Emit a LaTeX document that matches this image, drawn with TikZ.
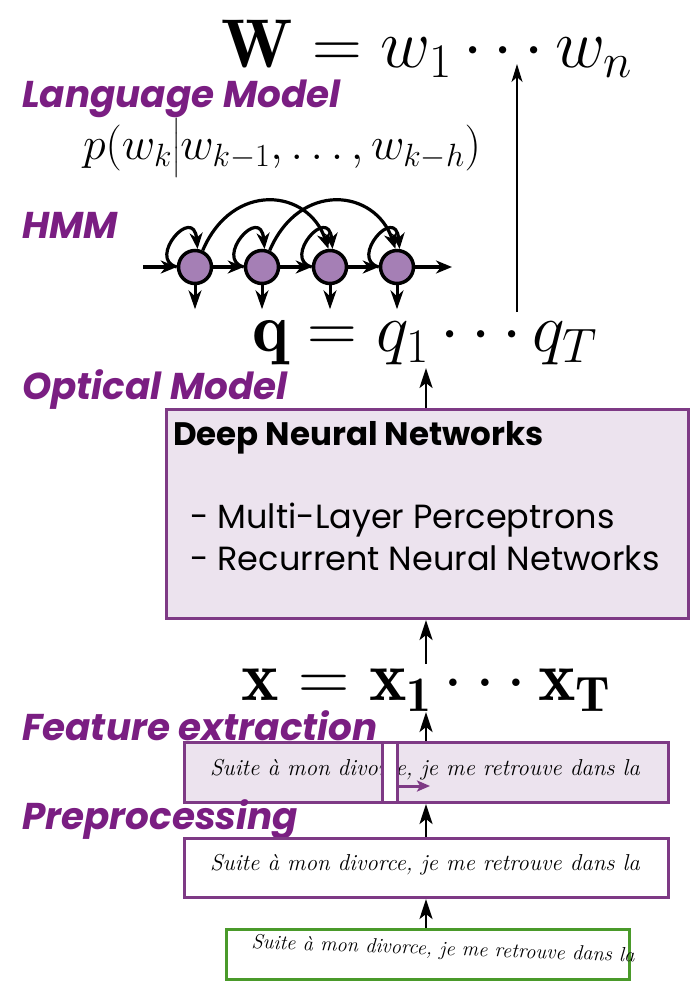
\RequirePackage{fix-cm}
\documentclass[tikz,border=0pt]{standalone}
\usepackage{amsmath}
\usepackage{fontspec}
\usetikzlibrary{arrows.meta}
\newfontfamily\labfont{Poppins}
\definecolor{labpurple}{HTML}{7A1E82}
\definecolor{boxpurple}{HTML}{7E3A85}
\definecolor{boxfill}{HTML}{ECE3EE}
\definecolor{hmmfill}{HTML}{A57FB5}
\definecolor{greenbox}{HTML}{4A9A2A}
\begin{document}
\begin{tikzpicture}[x=1pt,y=-1pt,
  lab/.style={anchor=west,inner sep=0pt,text=labpurple,font=\labfont\bfseries\itshape\fontsize{37.3}{37.3}\selectfont},
  bigarrow/.style={line width=2.5pt,-{Stealth[length=20pt,width=13pt,inset=5pt]}},
  hmmarrow/.style={line width=3.2pt,-{Stealth[length=16pt,width=13pt,inset=5pt]}},
  state/.style={circle,draw=black,line width=3.5pt,fill=hmmfill,minimum size=33pt,inner sep=0pt},
  panel/.style={draw=boxpurple,line width=3pt,anchor=north west,inner sep=0pt},
  hand/.style={inner sep=0pt,font=\itshape\fontsize{23}{23}\selectfont}
  ]
\useasboundingbox (0,0) rectangle (691,981);

% top formula
\node[inner sep=0pt] (W) at (427,49) {\fontsize{69}{69}\selectfont$\mathbf{W}=w_1\cdots w_n$};
\coordinate (Wbot) at (517,64);
\coordinate (qtop) at (517,312);
\draw[line width=2pt,-{Stealth[length=18pt,width=11pt,inset=5pt]}] (qtop) -- (Wbot);

\node[lab] (lm) at (22,99) {Language Model};
\node[inner sep=0pt] (pw) at (282,148) {\fontsize{46}{46}\selectfont$p(w_k\big|w_{k-1},\ldots,w_{k-h})$};

\node[lab] (hmm) at (22,225) {HMM};

% HMM chain
\node[state] (s1) at (195,267) {};
\node[state] (s2) at (262,267) {};
\node[state] (s3) at (330,267) {};
\node[state] (s4) at (397,267) {};
\coordinate (hin) at (143,267);
\coordinate (hout) at (452,267);
\draw[hmmarrow] (hin) -- (s1);
\draw[hmmarrow] (s1) -- (s2);
\draw[hmmarrow] (s2) -- (s3);
\draw[hmmarrow] (s3) -- (s4);
\draw[hmmarrow] (s4) -- (hout);
\foreach \s in {s1,s2,s3,s4}{
  \draw[hmmarrow] (\s.180) .. controls +(-30,-8) and +(-4,-45) .. (\s.82);
}
\draw[hmmarrow] (s1.65) .. controls +(30,-70) and +(-20,-60) .. (s3.95);
\draw[hmmarrow] (s2.65) .. controls +(30,-70) and +(-20,-60) .. (s4.95);
\foreach \s in {s1,s2,s3,s4}{
  \draw[line width=3pt,-{Stealth[length=19pt,width=13pt,inset=6pt]}] (\s.south) -- ++(0,24);
}

% q
\node[inner sep=0pt] (q) at (425,343) {\fontsize{69}{69}\selectfont$\mathbf{q}=q_1\cdots q_T$};
\node[lab] (om) at (22,390) {Optical Model};

% DNN box
\node[panel,fill=boxfill,minimum width=522pt,minimum height=209pt] (dnn) at (165,408) {};
\node[anchor=west,inner sep=0pt,font=\labfont\bfseries\fontsize{32.5}{32.5}\selectfont] (dnnt) at (173,438) {Deep Neural Networks};
\node[anchor=west,inner sep=0pt,font=\labfont\fontsize{33.5}{33.5}\selectfont] (mlp) at (190,520) {- Multi-Layer Perceptrons};
\node[anchor=west,inner sep=0pt,font=\labfont\fontsize{33.5}{33.5}\selectfont] (rnn) at (190,558) {- Recurrent Neural Networks};
\coordinate (dnntop) at (426,408);
\coordinate (qbot) at (426,368);
\draw[bigarrow] (dnntop) -- (qbot);

% x
\node[inner sep=0pt] (x) at (426,690) {\fontsize{71}{71}\selectfont$\mathbf{x}=\mathbf{x_1}\cdots\mathbf{x_T}$};
\coordinate (xbot) at (426,664);
\draw[bigarrow] (xbot) -- (dnn.south -| xbot);

\node[lab] (fe) at (22,726) {Feature extraction};

% feature box
\node[panel,fill=boxfill,minimum width=484pt,minimum height=60pt] (feat) at (183,741) {};
\node[hand] (h1) at (425,770) {Suite à mon divorce, je me retrouve dans la};
\node[draw=boxpurple,line width=2.5pt,fill=white,anchor=north west,inner sep=0pt,minimum width=15pt,minimum height=60pt] (win) at (381,741) {};
\coordinate (warr) at (430,786);
\draw[draw=boxpurple,line width=3pt,-{Stealth[length=13pt,width=11pt,inset=3pt]}] (win.east |- warr) -- (warr);
\coordinate (xin) at (426,712);
\draw[bigarrow] (feat.north -| xin) -- (xin);

\node[lab] (pp) at (22,820) {Preprocessing};

% preprocessing box
\node[panel,fill=white,minimum width=484pt,minimum height=59pt] (pre) at (183,837) {};
\node[hand] (h2) at (425,865) {Suite à mon divorce, je me retrouve dans la};
\draw[bigarrow] (pre.north -| xin) -- (feat.south -| xin);

% raw image box
\node[draw=greenbox,line width=3pt,fill=white,anchor=north west,inner sep=0pt,minimum width=403pt,minimum height=50pt] (raw) at (225,928) {};
\node[hand,font=\itshape\fontsize{20.5}{20.5}\selectfont,rotate=-2] (h3) at (443,950) {Suite à mon divorce, je me retrouve dans la};
\draw[bigarrow] (raw.north -| xin) -- (pre.south -| xin);
\end{tikzpicture}
\end{document}
